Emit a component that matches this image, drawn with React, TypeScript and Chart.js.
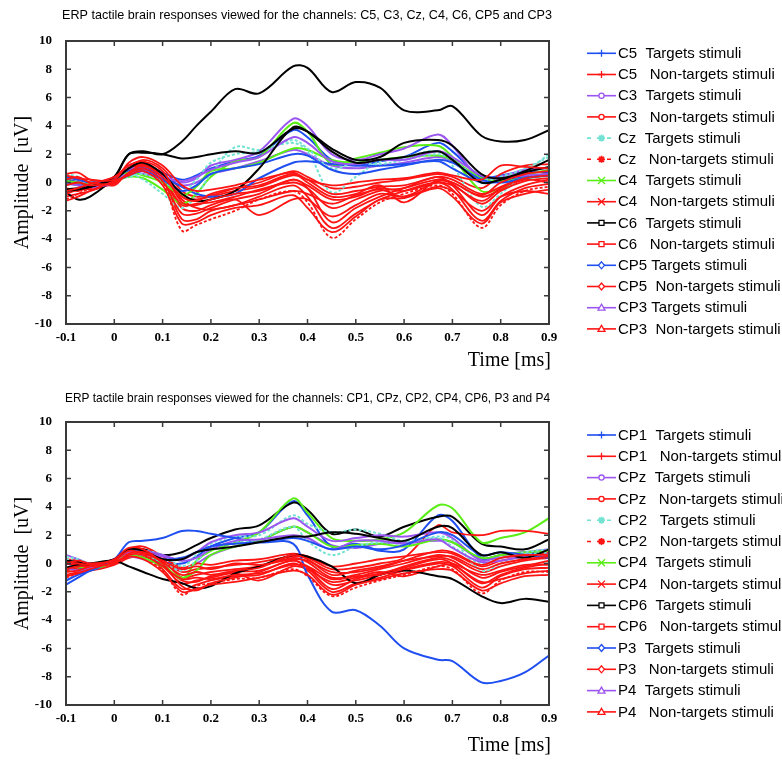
import React, { useEffect, useRef } from "react";
import { Chart, registerables } from "chart.js";
Chart.register(...registerables);

// ---------- shared axes ----------
const TIME = [-0.1, -0.075, -0.05, 0, 0.03, 0.06, 0.1, 0.14, 0.17, 0.2, 0.25, 0.3, 0.37, 0.4, 0.45, 0.5, 0.55, 0.6, 0.67, 0.7, 0.76, 0.8, 0.85, 0.9];
const X_TICKS = [-0.1, 0, 0.1, 0.2, 0.3, 0.4, 0.5, 0.6, 0.7, 0.8, 0.9];
const Y_TICKS = [-10, -8, -6, -4, -2, 0, 2, 4, 6, 8, 10];
const X_TICK_LABELS = ["-0.1", "0", "0.1", "0.2", "0.3", "0.4", "0.5", "0.6", "0.7", "0.8", "0.9"];

// ---------- panel 1 : C5, C3, Cz, C4, C6, CP5, CP3 ----------
const TOP_TITLE = "ERP tactile brain responses viewed for the channels: C5, C3, Cz, C4, C6, CP5 and CP3";
const TOP_LABELS = [
  "C5  Targets stimuli", "C5   Non-targets stimuli",
  "C3  Targets stimuli", "C3   Non-targets stimuli",
  "Cz  Targets stimuli", "Cz   Non-targets stimuli",
  "C4  Targets stimuli", "C4   Non-targets stimuli",
  "C6  Targets stimuli", "C6   Non-targets stimuli",
  "CP5 Targets stimuli", "CP5  Non-targets stimuli",
  "CP3 Targets stimuli", "CP3  Non-targets stimuli",
];
const C5_T = [0.2, 0.0, -0.2, 0.2, 0.8, 1.0, 0.4, -0.3, -0.8, -1.0, -0.8, 0.3, 1.4, 1.5, 1.3, 1.2, 1.2, 1.3, 1.5, 1.0, 0.0, 0.1, 0.4, 0.6];
const C5_N = [-0.8, -0.5, -0.3, 0.4, 1.2, 1.4, 0.6, -1.0, -1.2, -1.0, -0.6, -0.3, 0.5, 0.2, -0.8, -0.6, -0.3, -0.2, 0.4, 0.2, -0.8, -0.3, 0.4, 0.6];
const C3_T = [0.2, 0.0, -0.3, 0.0, 0.9, 1.0, 0.5, 0.0, 0.3, 1.2, 1.6, 2.2, 4.5, 4.0, 2.0, 1.6, 2.0, 2.4, 3.4, 2.6, 0.2, 0.4, 0.9, 1.0];
const C3_N = [0.6, 0.7, 0.2, -0.2, 0.9, 1.3, 0.4, -1.6, -1.5, -1.4, -1.0, -0.5, 0.0, -0.4, -1.8, -1.2, -0.6, -0.4, 0.2, -0.1, -1.5, -0.6, 0.1, 0.3];
const CZ_T = [0.6, 0.4, 0.0, 0.0, 0.6, 0.2, -0.8, -1.8, -0.9, 0.6, 2.5, 2.3, 2.8, 2.2, -0.7, 0.4, 1.5, 1.8, 2.2, 1.2, -1.7, -0.8, 0.7, 2.0];
const CZ_N = [-1.2, -0.8, -0.4, 0.2, 0.8, 1.0, 0.0, -3.4, -3.0, -2.6, -2.0, -1.2, -0.6, -1.4, -3.9, -2.6, -1.4, -0.8, -0.2, -0.8, -3.2, -1.6, -0.6, -0.3];
const C4_T = [0.2, 0.0, -0.2, 0.1, 0.4, 0.3, -0.5, -1.5, -0.8, 0.4, 1.5, 1.8, 4.2, 3.6, 1.3, 1.7, 2.1, 2.5, 2.6, 1.8, -0.6, -0.4, 0.5, 0.9];
const C4_N = [0.3, 0.2, 0.0, 0.1, 1.0, 1.6, 1.0, -0.6, -1.0, -0.9, -0.4, 0.0, 0.8, 0.4, -0.4, -0.3, 0.0, 0.2, 0.6, 0.4, -0.4, 0.6, 1.2, 1.3];
const C6_T = [-0.7, -1.2, -1.0, 0.4, 2.0, 2.2, 2.0, 2.9, 4.0, 5.0, 6.6, 6.3, 8.2, 8.1, 6.4, 7.1, 6.7, 5.1, 5.1, 5.4, 3.3, 2.9, 3.0, 3.7];
const C6_N = [-0.4, -0.6, -0.3, 0.3, 1.0, 1.2, 0.5, -1.2, -1.8, -1.9, -1.6, -1.2, -0.6, -0.8, -1.5, -0.9, -0.5, -1.0, 0.1, 0.0, -1.0, -0.5, 0.2, 0.0];
const CP5_T = [0.0, -0.1, -0.2, 0.3, 1.2, 1.3, 0.7, 0.2, 0.5, 1.0, 1.5, 1.9, 3.7, 3.2, 1.6, 1.2, 1.5, 1.8, 2.8, 2.2, 0.4, 0.5, 0.8, 0.7];
const CP5_N = [0.0, -0.2, -0.5, 0.0, 0.8, 1.1, 0.2, -2.6, -2.6, -2.0, -1.6, -1.0, -0.2, -1.0, -3.2, -2.2, -1.2, -0.6, 0.0, -0.5, -2.7, -1.3, -0.4, -0.1];
const CP3_T = [0.0, -0.2, -0.4, 0.2, 0.7, 0.6, 0.3, -0.2, 0.0, 0.6, 1.0, 1.5, 2.3, 2.0, 1.2, 1.0, 1.2, 1.4, 1.8, 1.5, 0.3, 0.2, 0.6, 0.8];
const CP3_N = [-1.0, -0.8, -0.6, 0.0, 0.6, 0.9, 0.2, -1.8, -2.0, -1.6, -1.2, -2.3, -1.2, -1.2, -2.4, -1.6, -0.8, -1.0, -0.3, -0.6, -2.0, -1.0, -0.6, -0.8];
// further single-trial curves of the same panel (not in the legend)
const TOP_RED_EXTRA = [
  [0.5, 0.3, 0.2, 0.2, 1.4, 1.8, 1.2, -0.2, -0.6, -0.5, -0.2, 0.2, 0.7, 0.2, -0.2, 0.0, 0.2, 0.3, 0.7, 0.5, 0.2, 1.2, 1.1, 1.0],
  [-0.2, 0.0, -0.2, 0.0, 0.6, 1.0, 0.1, -2.2, -2.2, -1.8, -1.2, -0.8, 0.2, -0.4, -2.8, -1.8, -1.0, -0.4, 0.4, -0.2, -2.3, -1.0, -0.2, 0.2],
  [-0.6, -0.4, -0.1, 0.4, 1.2, 1.5, 0.8, -1.4, -1.6, -1.2, -0.8, -0.6, 0.2, -0.2, -1.2, -1.0, -0.4, -0.6, 0.0, -0.2, -1.3, -0.4, 0.3, 0.5],
  [0.2, 0.4, 0.0, -0.1, 0.7, 1.2, 0.4, -1.0, -1.3, -0.8, -0.4, -0.2, 0.6, 0.0, -1.0, -0.8, -0.2, -1.4, 0.2, 0.0, -0.9, 0.0, 0.6, 0.8],
  [-1.3, -1.0, -0.6, 0.1, 0.5, 0.8, -0.2, -2.9, -2.8, -2.3, -1.8, -1.6, -0.9, -1.8, -3.5, -2.4, -1.2, -1.1, -0.4, -1.0, -2.9, -1.4, -0.8, -0.5],
];
const TOP_BLACK_EXTRA = [
  [-0.5, -0.4, -0.3, 0.4, 2.0, 2.1, 2.0, 1.7, 1.8, 2.0, 2.2, 2.1, 3.8, 3.6, 2.4, 1.6, 1.8, 2.8, 3.0, 2.6, 0.6, 0.3, 0.8, 1.6],
  [-0.6, -0.5, -0.3, 0.2, 1.0, 1.4, 0.6, -0.8, -1.3, -1.2, -0.6, 1.0, 3.9, 3.6, 2.2, 1.4, 1.6, 1.8, 2.2, 1.6, 0.0, 0.2, 0.7, 1.1],
];
const TOP_BLUE_EXTRA = [0.4, 0.2, 0.0, 0.1, 0.5, 0.8, 0.2, -0.6, -0.2, 0.6, 1.0, 1.3, 2.0, 1.9, 0.9, 0.6, 0.9, 1.2, 1.6, 1.4, 0.2, 0.0, 0.3, 0.5];
const TOP_PURPLE_EXTRA = [-0.1, -0.2, -0.3, 0.3, 0.6, 0.8, 0.4, 0.1, 0.4, 0.9, 1.4, 1.8, 3.2, 2.8, 1.5, 1.3, 1.6, 1.6, 2.2, 1.8, 0.5, 0.3, 0.5, 0.6];
const TOP_CYAN_EXTRA = [0.4, 0.2, 0.0, 0.2, 0.4, 0.6, 0.1, -0.6, 0.2, 1.4, 2.0, 2.2, 3.0, 2.4, 1.0, 1.4, 1.3, 1.6, 2.0, 1.6, 0.2, 0.4, 1.0, 1.8];
const TOP_GREEN_EXTRA = [0.1, 0.0, -0.1, 0.2, 0.7, 0.5, 0.0, -0.9, -0.3, 0.8, 1.0, 1.4, 2.4, 2.3, 1.6, 1.4, 1.6, 1.8, 1.9, 1.6, 0.3, 0.1, 0.3, 0.5];

// ---------- panel 2 : CP1, CPz, CP2, CP4, CP6, P3, P4 ----------
const BOT_TITLE = "ERP tactile brain responses viewed for the channels: CP1, CPz, CP2, CP4, CP6, P3 and P4";
const BOT_LABELS = [
  "CP1  Targets stimuli", "CP1   Non-targets stimuli",
  "CPz  Targets stimuli", "CPz   Non-targets stimuli",
  "CP2   Targets stimuli", "CP2   Non-targets stimuli",
  "CP4  Targets stimuli", "CP4   Non-targets stimuli",
  "CP6  Targets stimuli", "CP6   Non-targets stimuli",
  "P3  Targets stimuli", "P3   Non-targets stimuli",
  "P4  Targets stimuli", "P4   Non-targets stimuli",
];
const CP1_T = [-1.5, -1.0, -0.5, 0.3, 1.5, 1.6, 1.8, 2.3, 2.3, 2.1, 1.8, 1.5, 1.4, -0.8, -3.4, -3.3, -4.4, -6.0, -6.8, -6.9, -8.4, -8.3, -7.7, -6.5];
const CP1_N = [-0.5, -0.3, -0.1, 0.2, 0.8, 0.6, -0.2, -1.4, -1.2, -1.0, -0.6, -0.5, 0.2, -0.2, -1.5, -1.2, -0.8, -0.2, 0.4, 0.2, -1.0, -0.6, -0.2, 0.2];
const CPZ_T = [0.6, 0.3, 0.0, 0.2, 0.6, 0.7, 0.5, 0.3, 0.8, 1.5, 2.0, 2.2, 3.2, 2.6, 1.6, 1.8, 2.0, 1.9, 2.2, 1.8, 0.2, 0.6, 0.8, 1.0];
const CPZ_N = [0.2, 0.0, -0.2, 0.1, 0.5, 0.9, 0.2, -0.6, -0.4, -0.3, -0.1, 0.1, 0.5, 0.4, -0.4, -0.3, 0.0, 0.4, 2.7, 2.2, 2.0, 2.3, 2.3, 2.1];
const CP2_T = [0.3, 0.1, -0.2, 0.2, 0.8, 0.9, 0.6, -0.2, 0.6, 1.4, 1.9, 2.0, 3.4, 2.8, 2.2, 2.4, 2.1, 1.6, 1.9, 1.7, -0.5, 0.0, 0.6, 0.8];
const CP2_N = [-1.0, -0.7, -0.4, 0.0, 0.6, 0.4, -0.5, -2.2, -1.6, -1.4, -1.1, -1.0, -0.4, -0.9, -2.3, -1.7, -1.2, -0.8, -0.2, -0.4, -2.1, -1.2, -0.6, -0.6];
const CP4_T = [-0.5, -0.3, -0.2, 0.2, 0.9, 0.8, 0.0, -1.1, 0.2, 0.9, 1.5, 2.2, 4.6, 3.6, 1.8, 1.6, 1.7, 2.2, 4.1, 3.9, 1.5, 1.8, 2.2, 3.2];
const CP4_N = [0.0, -0.1, -0.3, 0.2, 1.0, 1.2, 0.5, -0.3, 0.0, -0.1, 0.2, 0.3, 0.7, 0.5, -0.2, 0.0, 0.3, 0.5, 0.8, 0.7, -0.2, 0.2, 0.5, 0.8];
const CP6_T = [0.0, -0.1, -0.3, 0.2, 1.0, 1.0, 0.6, 0.8, 1.3, 1.8, 2.4, 2.7, 4.3, 3.8, 2.1, 2.4, 1.9, 2.6, 3.3, 3.3, 1.4, 1.2, 1.0, 1.7];
const CP6_N = [-0.8, -0.6, -0.3, 0.1, 0.6, 0.7, -0.4, -1.8, -1.5, -1.2, -0.9, -0.8, 0.0, -0.5, -2.0, -1.4, -1.0, -0.5, 0.0, -0.2, -1.7, -0.9, -0.4, -0.3];
const P3_T = [-0.4, -0.3, -0.5, 0.2, 0.8, 0.6, 0.1, 0.0, 0.5, 1.2, 1.8, 2.2, 4.4, 3.4, 1.2, 1.4, 0.9, 1.0, 3.4, 3.0, 0.4, 0.6, 0.8, 0.6];
const P3_N = [0.3, 0.2, 0.0, 0.3, 0.8, 1.0, 0.3, -1.0, -0.8, -0.6, -0.4, -0.2, 0.4, 0.1, -1.0, -0.8, -0.4, 0.0, 0.6, 0.4, -0.6, -0.2, 0.2, 0.4];
const P4_T = [0.0, -0.2, -0.4, 0.2, 0.5, 0.3, -0.1, -0.4, 0.0, 0.6, 1.2, 1.6, 2.6, 2.2, 1.3, 1.1, 1.4, 1.5, 1.6, 1.5, 0.3, 0.4, 0.6, 0.7];
const P4_N = [-0.3, -0.4, -0.5, -0.1, 0.4, 0.5, -0.1, -1.2, -1.3, -0.9, -0.7, -1.2, -0.2, -0.4, -1.3, -1.0, -0.6, -0.9, -0.2, -0.1, -1.3, -1.1, -0.7, -0.5];
const BOT_RED_EXTRA = [
  [-0.6, -0.5, -0.2, 0.3, 1.1, 1.0, 0.0, -1.6, -1.9, -1.4, -1.0, -0.6, 0.2, -0.3, -1.8, -1.1, -0.7, -0.3, 0.3, 0.0, -1.4, -0.8, -0.3, 0.0],
  [0.1, 0.0, -0.1, 0.0, 0.7, 0.8, 0.1, -0.8, -0.6, -0.8, -0.5, -0.3, 0.6, 0.3, -0.8, -0.5, -0.2, 0.2, 0.5, 0.5, -0.4, 0.0, 0.3, 0.5],
  [-0.9, -0.7, -0.4, 0.1, 0.5, 0.3, -0.6, -2.0, -1.8, -1.5, -1.3, -1.0, -0.5, -0.8, -2.2, -1.5, -1.1, -0.7, -0.4, -0.5, -1.9, -1.4, -0.9, -0.8],
  [0.0, 0.2, 0.0, 0.2, 0.9, 0.7, 0.2, -0.4, -0.2, -0.4, 0.0, -0.1, 0.3, 0.2, -0.6, -0.6, -0.3, 0.2, 0.9, 0.8, -0.1, 0.4, 0.6, 0.6],
  [-0.4, -0.2, -0.2, 0.0, 0.6, 0.6, -0.2, -1.1, -1.0, -1.1, -0.8, -0.7, -0.1, -0.2, -1.1, -0.9, -0.8, -0.4, 0.1, 0.0, -0.8, -0.5, -0.1, -0.1],
];
const BOT_BLACK_EXTRA = [
  [-0.3, -0.1, 0.0, 0.2, -0.2, -0.6, -1.1, -1.4, -1.75, -1.6, -0.7, -0.2, 0.6, 0.5, -0.2, -1.4, -0.8, -0.5, -0.9, -1.1, -2.3, -2.8, -2.5, -2.7],
  [0.2, 0.1, -0.1, 0.3, 1.0, 0.9, 0.3, 0.3, 0.8, 1.0, 1.2, 1.5, 1.9, 1.9, 2.2, 2.1, 1.8, 1.6, 2.6, 2.5, 0.6, 0.8, 0.4, 1.0],
];
const BOT_BLUE_EXTRA = [-1.2, -0.8, -0.5, 0.3, 1.0, 0.8, 0.3, 0.4, 0.8, 1.2, 1.4, 1.5, 1.8, 1.6, 1.0, 1.2, 1.0, 1.3, 2.2, 2.0, 0.6, 0.8, 0.6, 0.4];
const BOT_PURPLE_EXTRA = [-0.3, -0.5, -0.3, 0.3, 0.8, 0.9, 0.6, 0.2, 0.4, 1.0, 1.6, 1.7, 2.0, 1.8, 1.0, 1.6, 1.6, 1.4, 1.7, 1.1, 0.1, 0.2, 0.5, 0.5];
const BOT_CYAN_EXTRA = [0.5, 0.3, 0.0, 0.1, 0.7, 0.6, 0.1, -0.5, 0.2, 1.0, 1.5, 1.7, 2.6, 1.6, 0.6, 1.2, 1.5, 1.4, 1.8, 1.2, 0.0, 0.4, 0.8, 1.0];
const BOT_GREEN_EXTRA = [-0.3, -0.2, -0.4, 0.1, 0.6, 0.4, -0.2, -1.0, -0.5, 0.6, 1.2, 1.6, 2.6, 2.2, 1.2, 1.3, 1.4, 1.2, 1.7, 1.5, 0.4, 0.6, 0.8, 0.9];

// ---------- styles ----------
const BLUE = "#1f4ff0";
const RED = "#ff1414";
const PURPLE = "#9b55f0";
const CYAN = "#72e3d2";
const GREEN = "#5aee16";
const BLACK = "#000000";
const MARKERS = ["cross", "circle", "star", "crossRot", "rect", "rectRot", "triangle"];
const TARGET_COLORS = [BLUE, PURPLE, CYAN, GREEN, BLACK, BLUE, PURPLE];

type Series = { label?: string; color: string; marker?: string; dash?: boolean; values: number[] };

function buildSeries(labels: string[], pairs: number[][][], extras: Series[]): Series[] {
  const legendSeries: Series[] = [];
  pairs.forEach((pair, i) => {
    legendSeries.push({ label: labels[2 * i], color: TARGET_COLORS[i], marker: MARKERS[i], dash: i === 2, values: pair[0] });
    legendSeries.push({ label: labels[2 * i + 1], color: RED, marker: MARKERS[i], dash: i === 2, values: pair[1] });
  });
  return [...extras, ...legendSeries];
}

const TOP_SERIES = buildSeries(
  TOP_LABELS,
  [[C5_T, C5_N], [C3_T, C3_N], [CZ_T, CZ_N], [C4_T, C4_N], [C6_T, C6_N], [CP5_T, CP5_N], [CP3_T, CP3_N]],
  [
    ...TOP_RED_EXTRA.map((v) => ({ color: RED, values: v })),
    ...TOP_BLACK_EXTRA.map((v) => ({ color: BLACK, values: v })),
    { color: BLUE, values: TOP_BLUE_EXTRA },
    { color: PURPLE, values: TOP_PURPLE_EXTRA },
    { color: CYAN, values: TOP_CYAN_EXTRA, dash: true },
    { color: GREEN, values: TOP_GREEN_EXTRA },
  ]
);
const BOT_SERIES = buildSeries(
  BOT_LABELS,
  [[CP1_T, CP1_N], [CPZ_T, CPZ_N], [CP2_T, CP2_N], [CP4_T, CP4_N], [CP6_T, CP6_N], [P3_T, P3_N], [P4_T, P4_N]],
  [
    ...BOT_RED_EXTRA.map((v) => ({ color: RED, values: v })),
    ...BOT_BLACK_EXTRA.map((v) => ({ color: BLACK, values: v })),
    { color: BLUE, values: BOT_BLUE_EXTRA },
    { color: PURPLE, values: BOT_PURPLE_EXTRA },
    { color: CYAN, values: BOT_CYAN_EXTRA, dash: true },
    { color: GREEN, values: BOT_GREEN_EXTRA },
  ]
);

function drawMarker(ctx: CanvasRenderingContext2D, style: string, x: number, y: number, color: string) {
  ctx.save();
  ctx.setLineDash([]);
  ctx.strokeStyle = color;
  ctx.fillStyle = "#ffffff";
  ctx.lineWidth = 1.3;
  ctx.beginPath();
  const r = 3.5;
  if (style === "cross") {
    ctx.moveTo(x - r, y); ctx.lineTo(x + r, y); ctx.moveTo(x, y - r); ctx.lineTo(x, y + r);
    ctx.stroke();
  } else if (style === "circle") {
    ctx.arc(x, y, 2.6, 0, Math.PI * 2); ctx.fill(); ctx.stroke();
  } else if (style === "star") {
    ctx.lineWidth = 1.8;
    for (let k = 0; k < 4; k++) {
      const a = (k * Math.PI) / 4;
      ctx.moveTo(x - r * Math.cos(a), y - r * Math.sin(a));
      ctx.lineTo(x + r * Math.cos(a), y + r * Math.sin(a));
    }
    ctx.stroke();
  } else if (style === "crossRot") {
    ctx.moveTo(x - r, y - r); ctx.lineTo(x + r, y + r); ctx.moveTo(x + r, y - r); ctx.lineTo(x - r, y + r);
    ctx.stroke();
  } else if (style === "rect") {
    ctx.rect(x - 2.5, y - 2.5, 5, 5); ctx.fill(); ctx.stroke();
  } else if (style === "rectRot") {
    ctx.moveTo(x, y - r); ctx.lineTo(x + r - 0.5, y); ctx.lineTo(x, y + r); ctx.lineTo(x - r + 0.5, y); ctx.closePath();
    ctx.fill(); ctx.stroke();
  } else if (style === "triangle") {
    ctx.moveTo(x, y - r); ctx.lineTo(x + r, y + r - 1); ctx.lineTo(x - r, y + r - 1); ctx.closePath();
    ctx.fill(); ctx.stroke();
  }
  ctx.restore();
}

const decorPlugin = {
  id: "panelDecor",
  afterDraw(chart: any, _args: any, opts: any) {
    const ctx: CanvasRenderingContext2D = chart.ctx;
    const a = chart.chartArea;
    const xs = chart.scales.x;
    const ys = chart.scales.y;
    ctx.save();
    // frame + inward ticks
    ctx.strokeStyle = "#3a3a3a";
    ctx.lineWidth = 2;
    ctx.strokeRect(a.left, a.top, a.right - a.left, a.bottom - a.top);
    ctx.lineWidth = 1.5;
    ctx.beginPath();
    X_TICKS.forEach((v) => {
      const px = xs.getPixelForValue(v);
      ctx.moveTo(px, a.bottom); ctx.lineTo(px, a.bottom - 5);
      ctx.moveTo(px, a.top); ctx.lineTo(px, a.top + 5);
    });
    Y_TICKS.forEach((v) => {
      const py = ys.getPixelForValue(v);
      ctx.moveTo(a.left, py); ctx.lineTo(a.left + 5, py);
      ctx.moveTo(a.right, py); ctx.lineTo(a.right - 5, py);
    });
    ctx.stroke();

    // title (fitted to its measured span)
    ctx.fillStyle = "#000";
    ctx.font = '13px "Liberation Sans", Arial, sans-serif';
    ctx.textBaseline = "alphabetic";
    ctx.textAlign = "left";
    const tw = ctx.measureText(opts.title).width;
    ctx.save();
    ctx.translate(opts.titleX, opts.titleY);
    ctx.scale(opts.titleW / tw, 1);
    ctx.fillText(opts.title, 0, 0);
    ctx.restore();

    // axis titles
    ctx.font = '20px "Liberation Serif", "Times New Roman", serif';
    ctx.textAlign = "right";
    ctx.fillText("Time [ms]", 551, opts.timeY);
    ctx.save();
    ctx.translate(23, (a.top + a.bottom) / 2);
    ctx.rotate(-Math.PI / 2);
    ctx.textAlign = "center";
    ctx.textBaseline = "middle";
    ctx.fillText("Amplitude  [uV]", 0, 0);
    ctx.restore();

    // legend
    const items = chart.data.datasets.filter((d: any) => d.legendLabel);
    ctx.font = '15px "Liberation Sans", Arial, sans-serif';
    ctx.textAlign = "left";
    ctx.textBaseline = "middle";
    items.forEach((d: any, i: number) => {
      const y = opts.legendTop + i * opts.legendStep;
      ctx.save();
      ctx.strokeStyle = d.borderColor;
      ctx.lineWidth = 1.6;
      if (d.legendDash) ctx.setLineDash([4, 6]);
      ctx.beginPath();
      ctx.moveTo(587, y);
      ctx.lineTo(616, y);
      ctx.stroke();
      ctx.restore();
      drawMarker(ctx, d.legendMarker, 601.5, y, d.borderColor);
      ctx.fillStyle = "#000";
      ctx.fillText(d.legendLabel, 618, y + 0.5);
    });
    ctx.restore();
  },
};

function makeConfig(series: Series[], deco: any): any {
  return {
    type: "line",
    data: {
      datasets: series.map((s) => ({
        data: TIME.map((t, i) => ({ x: t, y: s.values[i] })),
        borderColor: s.color,
        backgroundColor: s.color,
        borderWidth: s.color === RED ? 1.8 : 2,
        borderDash: s.dash ? [3, 2] : [],
        pointRadius: 0,
        tension: 0.35,
        fill: false,
        legendLabel: s.label,
        legendMarker: s.marker,
        legendDash: s.dash,
      })),
    },
    options: {
      responsive: false,
      animation: false,
      layout: { padding: { left: 0, right: 233, top: 41, bottom: 0 } },
      plugins: {
        legend: { display: false },
        tooltip: { enabled: false },
        title: { display: false },
        panelDecor: deco,
      },
      scales: {
        x: {
          type: "linear",
          min: -0.1,
          max: 0.9,
          grid: { display: false, drawTicks: false },
          border: { display: false },
          afterBuildTicks: (sc: any) => {
            sc.ticks = X_TICKS.map((v) => ({ value: v }));
          },
          afterFit: (sc: any) => {
            sc.height = 57;
          },
          ticks: {
            padding: 6,
            maxRotation: 0,
            autoSkip: false,
            color: "#000",
            font: { family: '"Liberation Serif", "Times New Roman", serif', size: 13, weight: "bold" },
            callback: (_v: any, i: number) => X_TICK_LABELS[i],
          },
        },
        y: {
          min: -10,
          max: 10,
          grid: { display: false, drawTicks: false },
          border: { display: false },
          afterBuildTicks: (sc: any) => {
            sc.ticks = Y_TICKS.map((v) => ({ value: v }));
          },
          afterFit: (sc: any) => {
            sc.width = 66;
          },
          ticks: {
            padding: 14,
            autoSkip: false,
            color: "#000",
            font: { family: '"Liberation Serif", "Times New Roman", serif', size: 13, weight: "bold" },
            callback: (v: any) => String(v),
          },
        },
      },
    },
    plugins: [decorPlugin],
  };
}

export default function App() {
  const topRef = useRef<HTMLCanvasElement>(null);
  const botRef = useRef<HTMLCanvasElement>(null);
  useEffect(() => {
    const c1 = new Chart(topRef.current!, makeConfig(TOP_SERIES, {
      title: TOP_TITLE, titleX: 62, titleY: 19, titleW: 490, timeY: 366, legendTop: 53.3, legendStep: 21.2,
    }));
    const c2 = new Chart(botRef.current!, makeConfig(BOT_SERIES, {
      title: BOT_TITLE, titleX: 65, titleY: 21, titleW: 485, timeY: 370, legendTop: 54, legendStep: 21.3,
    }));
    return () => {
      c1.destroy();
      c2.destroy();
    };
  }, []);
  return (
    <div style={{ position: "fixed", left: 0, top: 0, width: 782, height: 762, background: "#fff" }}>
      <canvas ref={topRef} width={782} height={381} style={{ position: "absolute", left: 0, top: 0, display: "block" }} />
      <canvas ref={botRef} width={782} height={381} style={{ position: "absolute", left: 0, top: 381, display: "block" }} />
    </div>
  );
}
